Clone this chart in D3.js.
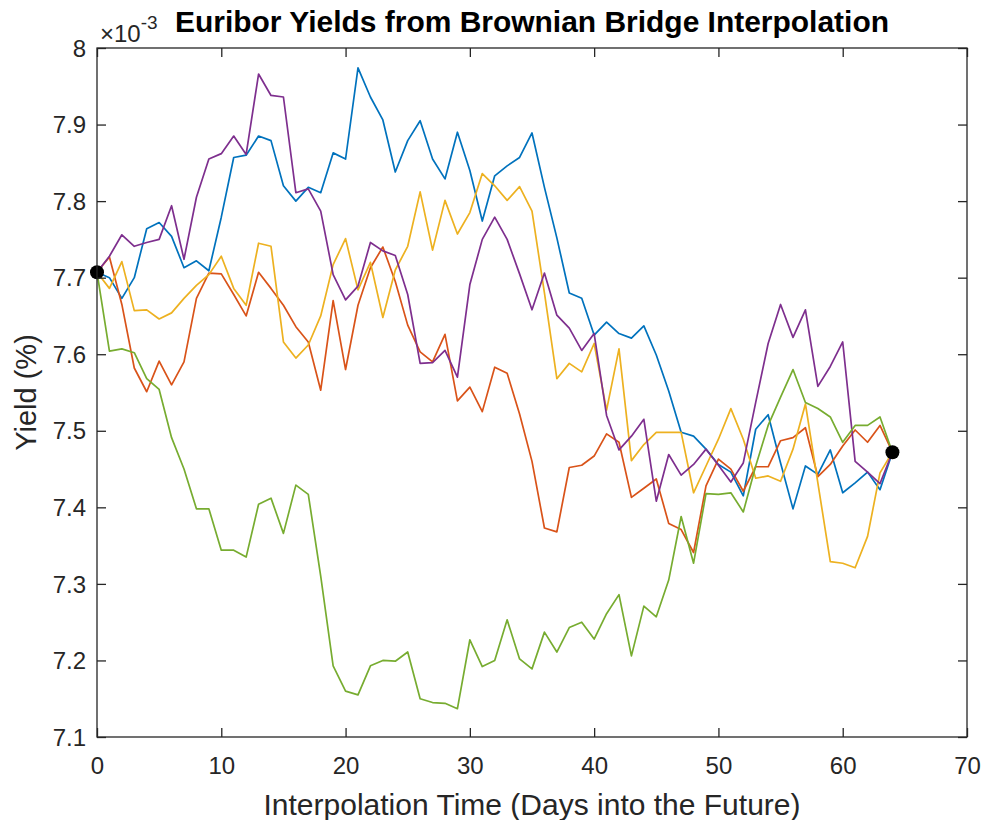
<!DOCTYPE html>
<html>
<head>
<meta charset="utf-8">
<script src="https://cdn.jsdelivr.net/npm/d3@7"></script>
<style>
  body { margin: 0; background: #fff; }
  svg { display: block; font-family: "Liberation Sans", Arial, sans-serif; }
  .tick-label { fill: #262626; font-size: 24px; }
  .axis-label { fill: #262626; font-size: 29px; }
  .title { fill: #000; font-size: 29px; font-weight: bold; }
</style>
</head>
<body>
<div id="chart"></div>
<script>
// x values: interpolation days
const days = [0,1,2,3,4,5,6,7,8,9,10,11,12,13,14,15,16,17,18,19,20,21,22,23,24,25,26,27,28,29,30,31,32,
  33,34,35,36,37,38,39,40,41,42,43,44,45,46,47,48,49,50,51,52,53,54,55,56,57,58,59,60,61,62,63,64];

// yields, in units of 1e-3
const pathBlue = [7.707,7.700,7.673,7.700,7.764,7.772,7.754,7.713,7.722,7.709,7.779,7.857,7.860,7.885,7.879,7.820,
  7.800,7.818,7.811,7.863,7.855,7.974,7.936,7.906,7.838,7.879,7.905,7.855,7.829,7.890,7.840,7.774,7.833,7.846,7.857,
  7.889,7.818,7.752,7.680,7.673,7.625,7.642,7.627,7.621,7.637,7.599,7.552,7.498,7.493,7.476,7.456,7.446,7.415,7.502,
  7.521,7.458,7.398,7.454,7.443,7.475,7.419,7.432,7.446,7.423,7.472];
const pathOrange = [7.707,7.727,7.665,7.582,7.551,7.591,7.560,7.590,7.673,7.706,7.705,7.678,7.650,7.707,7.686,7.664,
  7.636,7.616,7.553,7.670,7.580,7.664,7.713,7.740,7.695,7.638,7.603,7.590,7.626,7.539,7.557,7.525,7.583,7.575,7.522,
  7.460,7.373,7.368,7.452,7.455,7.467,7.496,7.485,7.413,7.425,7.437,7.379,7.371,7.341,7.428,7.463,7.450,7.421,7.453,
  7.453,7.487,7.491,7.504,7.440,7.456,7.480,7.501,7.485,7.507,7.472];
const pathYellow = [7.707,7.686,7.721,7.657,7.658,7.646,7.654,7.673,7.690,7.704,7.728,7.686,7.664,7.745,7.741,7.616,
  7.595,7.612,7.650,7.717,7.751,7.684,7.720,7.648,7.710,7.741,7.812,7.736,7.801,7.757,7.785,7.836,7.820,7.801,7.819,
  7.787,7.680,7.568,7.588,7.577,7.614,7.527,7.607,7.461,7.482,7.498,7.498,7.498,7.419,7.454,7.489,7.529,7.489,7.438,
  7.441,7.434,7.476,7.535,7.432,7.329,7.327,7.321,7.362,7.445,7.472];
const pathPurple = [7.707,7.728,7.756,7.741,7.746,7.750,7.794,7.724,7.805,7.855,7.862,7.885,7.861,7.966,7.938,7.936,
  7.811,7.816,7.787,7.704,7.671,7.689,7.746,7.735,7.729,7.678,7.588,7.589,7.605,7.570,7.691,7.750,7.779,7.750,7.705,
  7.658,7.706,7.651,7.634,7.605,7.627,7.520,7.475,7.493,7.515,7.408,7.469,7.442,7.456,7.476,7.455,7.433,7.458,7.537,
  7.614,7.665,7.622,7.658,7.558,7.584,7.616,7.460,7.446,7.431,7.472];
const pathGreen = [7.707,7.604,7.607,7.602,7.568,7.554,7.491,7.450,7.398,7.398,7.344,7.344,7.335,7.404,7.412,7.366,
  7.429,7.417,7.310,7.193,7.160,7.155,7.193,7.200,7.199,7.211,7.150,7.145,7.144,7.137,7.227,7.192,7.200,7.253,7.202,
  7.189,7.237,7.211,7.243,7.250,7.228,7.261,7.286,7.206,7.271,7.257,7.305,7.388,7.327,7.418,7.417,7.419,7.394,7.454,
  7.507,7.544,7.580,7.537,7.529,7.518,7.485,7.507,7.507,7.518,7.472];

// fixed end points of the bridge
const anchorDays = [0, 64];
const anchorYields = [7.707, 7.472];

const xTicks = [0, 10, 20, 30, 40, 50, 60, 70];
const yTicks = [7.1, 7.2, 7.3, 7.4, 7.5, 7.6, 7.7, 7.8, 7.9, 8];
const colors = ['#0072BD', '#D95319', '#EDB120', '#7E2F8E', '#77AC30'];

class LineChart {

  constructor(_config, series) {
    this.config = {
      parentElement: _config.parentElement,
      containerWidth: 984,
      containerHeight: 820,
      margin: { top: 48, right: 17, bottom: 83, left: 97 }
    };
    this.series = series;
    this.initVis();
  }

  initVis() {
    const vis = this;

    vis.width = vis.config.containerWidth - vis.config.margin.left - vis.config.margin.right;
    vis.height = vis.config.containerHeight - vis.config.margin.top - vis.config.margin.bottom;

    vis.svg = d3.select(vis.config.parentElement).append('svg')
      .attr('width', vis.config.containerWidth)
      .attr('height', vis.config.containerHeight);

    vis.chartArea = vis.svg.append('g')
      .attr('transform', `translate(${vis.config.margin.left},${vis.config.margin.top})`);

    vis.xScale = d3.scaleLinear().domain([0, 70]).range([0, vis.width]);
    vis.yScale = d3.scaleLinear().domain([7.1, 8]).range([vis.height, 0]);

    vis.renderVis();
  }

  renderVis() {
    const vis = this;
    const fmt = d3.format('.1~f');

    // lines
    const line = d3.line()
      .x((d, i) => vis.xScale(days[i]))
      .y(d => vis.yScale(d));

    vis.chartArea.selectAll('.path')
      .data(vis.series)
      .join('path')
      .attr('class', 'path')
      .attr('d', d => line(d))
      .attr('fill', 'none')
      .attr('stroke', (d, i) => colors[i])
      .attr('stroke-width', 1.7)
      .attr('stroke-linejoin', 'round');

    vis.chartArea.selectAll('.anchor')
      .data(anchorDays)
      .join('circle')
      .attr('class', 'anchor')
      .attr('cx', d => vis.xScale(d))
      .attr('cy', (d, i) => vis.yScale(anchorYields[i]))
      .attr('r', 7)
      .attr('fill', '#000');

    // axes, MATLAB style box with inward ticks on all sides
    const axisColor = '#262626';
    const tickLen = 9;
    const xAxis = d3.axisBottom(vis.xScale).tickValues(xTicks).tickSizeInner(-tickLen).tickSizeOuter(0).tickFormat(d3.format('d'));
    const yAxis = d3.axisLeft(vis.yScale).tickValues(yTicks).tickSizeInner(-tickLen).tickSizeOuter(0).tickFormat(fmt);

    const gx = vis.chartArea.append('g')
      .attr('transform', `translate(0,${vis.height})`)
      .call(xAxis);
    gx.selectAll('text').attr('class', 'tick-label').attr('y', 20).attr('dy', '0.71em').attr('font-size', null).attr('font-family', null);

    const gy = vis.chartArea.append('g').call(yAxis);
    gy.selectAll('text').attr('class', 'tick-label').attr('x', -11).attr('dy', '0.34em').attr('font-size', null).attr('font-family', null);

    vis.chartArea.append('g')
      .call(d3.axisTop(vis.xScale).tickValues(xTicks).tickSizeInner(-tickLen).tickSizeOuter(0).tickFormat(''));
    vis.chartArea.append('g')
      .attr('transform', `translate(${vis.width},0)`)
      .call(d3.axisRight(vis.yScale).tickValues(yTicks).tickSizeInner(-tickLen).tickSizeOuter(0).tickFormat(''));

    vis.chartArea.selectAll('.domain').remove();
    vis.chartArea.selectAll('.tick line').attr('stroke', axisColor).attr('stroke-width', 1.3);

    vis.chartArea.append('rect')
      .attr('width', vis.width)
      .attr('height', vis.height)
      .attr('fill', 'none')
      .attr('stroke', axisColor)
      .attr('stroke-width', 1.3);

    // labels
    vis.chartArea.append('text')
      .attr('class', 'axis-label')
      .attr('x', vis.width / 2)
      .attr('y', vis.height + 78)
      .attr('text-anchor', 'middle')
      .attr('textLength', 537)
      .attr('lengthAdjust', 'spacingAndGlyphs')
      .text('Interpolation Time (Days into the Future)');

    vis.chartArea.append('text')
      .attr('class', 'axis-label')
      .attr('transform', `translate(${36 - vis.config.margin.left},${vis.height / 2}) rotate(-90)`)
      .attr('text-anchor', 'middle')
      .text('Yield (%)');

    vis.chartArea.append('text')
      .attr('class', 'title')
      .attr('x', vis.width / 2)
      .attr('y', -16)
      .attr('text-anchor', 'middle')
      .attr('textLength', 714)
      .attr('lengthAdjust', 'spacingAndGlyphs')
      .text('Euribor Yields from Brownian Bridge Interpolation');

    // exponent marker
    const expo = vis.chartArea.append('text')
      .attr('class', 'tick-label')
      .attr('x', 3)
      .attr('y', -6);
    expo.append('tspan').text('\u00d710');
    expo.append('tspan').attr('dy', -13).attr('font-size', 19).text('-3');
  }
}

const chart = new LineChart({ parentElement: '#chart' },
  [pathBlue, pathOrange, pathYellow, pathPurple, pathGreen]);
</script>
</body>
</html>
